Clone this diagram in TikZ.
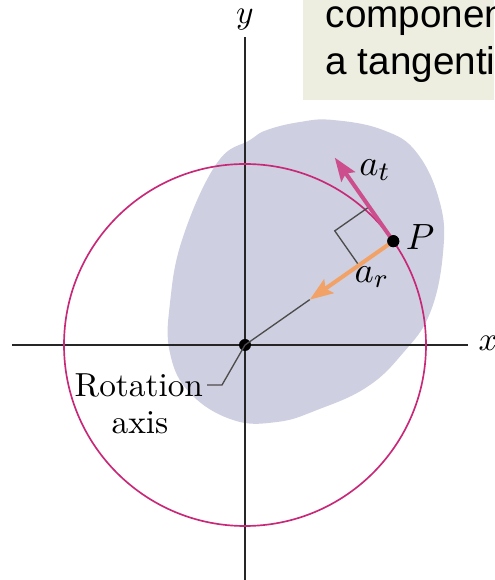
\documentclass[tikz,border=0pt]{standalone}
\usepackage{fontspec}
\newfontfamily\notefont{Liberation Sans}
\usepackage{xcolor}
\usetikzlibrary{arrows.meta}
\usetikzlibrary{calc, math}

\definecolor{bodygray}{RGB}{206,207,224}
\definecolor{circlemag}{RGB}{200,40,120}
\definecolor{tanmag}{RGB}{204,78,140}
\definecolor{radorange}{RGB}{242,162,102}
\definecolor{notebg}{RGB}{237,238,224}

\begin{document}
\begin{tikzpicture}[x=0.3pt, y=0.3pt, font=\fontsize{10}{12}\selectfont,
  vecarrow/.style={-{Stealth[length=7pt, width=5pt, inset=1.2pt]}, line width=1.2pt},
  thinline/.style={line width=0.4pt, color=black!70},
  dot/.style={circle, fill=black, inner sep=0, minimum size=3.6pt}]
\tikzmath{
\R=181;
\ang=35;
\len=102;
\sq=42;
}
\useasboundingbox (-245,-235) rectangle (249,345);

\begin{scope}
\clip (-245,-235) rectangle (249,345);
\fill[color=notebg] (58,245) rectangle (260,350);
\node[anchor=base west, inner sep=0, font=\notefont\fontsize{11.6}{13}\selectfont] (noteA) at (80,317) {component};
\node[anchor=base west, inner sep=0, font=\notefont\fontsize{11.6}{13}\selectfont] (noteB) at (80,270) {a tangential};
\node[anchor=west, inner sep=0] (xlab) at (233,2) {$x$};
\end{scope}

% rigid body
\fill[color=bodygray] plot[smooth cycle, tension=0.7] coordinates {
(5,205) (-28,182) (-62,108) (-75,42) (-75,-8) (-55,-48) (-12,-75) (32,-77)
(72,-65) (122,-42) (158,-8) (185,32) (198,92) (195,142) (172,192) (138,215)
(88,225) (55,223) (22,215)};

% axes
\coordinate (xstart) at (-233,0);
\coordinate (xend) at (223,0);
\coordinate (ystart) at (0,-240);
\coordinate (yend) at (0,308);
\draw[line width=0.6pt, color=black!85] (xstart) -- (xend);
\draw[line width=0.6pt, color=black!85] (ystart) -- (yend);
\node (ylab) at (0,325) {$y$};

\draw[color=circlemag, line width=0.5pt] (0,0) circle (\R);

\node[dot] (O) at (0,0) {};
\node[dot] (P) at (\ang:\R) {};
\coordinate (attip) at ($(P.center)+(\ang+90:\len)$);
\coordinate (artip) at ($(P.center)+(\ang+180:\len)$);

\draw[thinline] ($(P.center)+(\ang+90:\sq)$) -- ($(P.center)+(\ang+90:\sq)+(\ang+180:\sq)$) -- ($(P.center)+(\ang+180:\sq)$);
\draw[thinline] (artip) -- (O.center);
\draw[vecarrow, color=radorange] (P.center) -- (artip);
\draw[vecarrow, color=tanmag] (P.center) -- (attip);
\node[dot] at (P.center) {};

\node[font=\fontsize{11}{13}\selectfont] (atlab) at (130,175) {$a_t$};
\node[font=\fontsize{11}{13}\selectfont] (arlab) at (127,68) {$a_r$};
\node[font=\fontsize{11}{13}\selectfont] (Plab) at (175,108) {$P$};

\node[anchor=east, inner sep=1pt] (rottext) at (-38,-40) {Rotation};
\node (axistext) at (-105,-78) {axis};
\coordinate (bend) at (-23,-40);
\draw[thinline] (O.center) -- (bend) -- (rottext.east);

\end{tikzpicture}
\end{document}
